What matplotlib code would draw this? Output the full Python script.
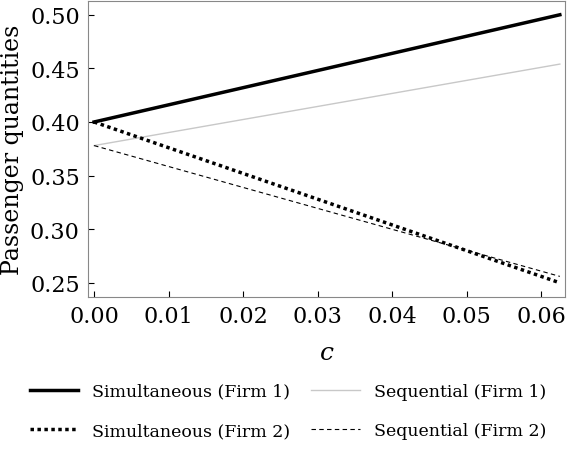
import matplotlib
matplotlib.use("Agg")
import matplotlib.pyplot as plt
from matplotlib.ticker import FormatStrFormatter

plt.rcParams['font.family'] = ['DejaVu Serif']
plt.rcParams['mathtext.fontset'] = 'dejavuserif'

c = [0.0, 0.0625]
sim1 = [0.400, 0.500]
sim2 = [0.400, 0.250]
seq1 = [0.378, 0.454]
seq2 = [0.378, 0.256]

fig = plt.figure(figsize=(5.76, 4.56), dpi=100)
ax = fig.add_axes([0.153, 0.347, 0.828, 0.649])
l1, = ax.plot(c, sim1, color='black', lw=2.5, label='Simultaneous (Firm 1)')
l3, = ax.plot(c, seq1, color='#c8c8c8', lw=1.0, label='Sequential (Firm 1)')
l2, = ax.plot(c, sim2, color='black', lw=2.5, ls=(0, (1, 1)), label='Simultaneous (Firm 2)')
l4, = ax.plot(c, seq2, color='black', lw=0.8, ls=(0, (4, 3)), label='Sequential (Firm 2)')
ax.set_xlim(-0.0008, 0.0632)
ax.set_ylim(0.237, 0.513)
ax.set_xticks([0, 0.01, 0.02, 0.03, 0.04, 0.05, 0.06])
ax.set_yticks([0.25, 0.30, 0.35, 0.40, 0.45, 0.50])
ax.xaxis.set_major_formatter(FormatStrFormatter('%.2f'))
ax.yaxis.set_major_formatter(FormatStrFormatter('%.2f'))
ax.tick_params(direction='in', labelsize=16, colors='black', length=4, pad=6)
for s in ax.spines.values():
    s.set_color('#888888')
ax.set_xlabel('$c$', fontsize=18, labelpad=10)
ax.set_ylabel('Passenger quantities', fontsize=17)
fig.legend(handles=[l1, l2, l3, l4], ncol=2, loc='lower center',
           bbox_to_anchor=(0.5, 0.0), frameon=False, fontsize=12.5,
           handlelength=2.8, columnspacing=1.2, labelspacing=1.3)
fig.savefig('out.png', dpi=100)
